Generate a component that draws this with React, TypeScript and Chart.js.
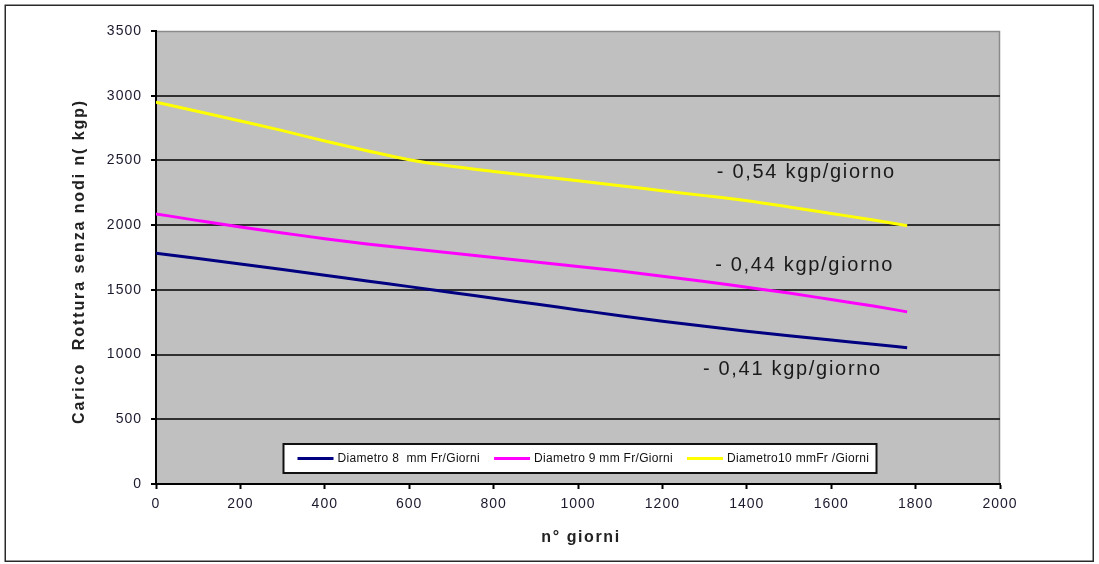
import { useEffect, useRef } from 'react';
import { Chart, registerables } from 'chart.js';

Chart.register(...registerables);

// ---- data ----
const days = [0, 100, 200, 300, 400, 500, 600, 700, 800, 900, 1000, 1100, 1200, 1300, 1400, 1500, 1600, 1700, 1780];
const diam8 = [1783, 1742, 1700, 1657, 1613, 1568, 1525, 1480, 1435, 1390, 1345, 1300, 1258, 1218, 1180, 1145, 1112, 1080, 1053];
const diam9 = [2087, 2035, 1985, 1940, 1895, 1855, 1820, 1785, 1750, 1715, 1680, 1645, 1605, 1565, 1520, 1475, 1425, 1375, 1330];
const diam10 = [2950, 2878, 2805, 2730, 2650, 2575, 2505, 2455, 2415, 2378, 2343, 2305, 2265, 2228, 2188, 2140, 2090, 2040, 1995];

const seriesLabels = ['Diametro 8  mm Fr/Giorni', 'Diametro 9 mm Fr/Giorni', 'Diametro10 mmFr /Giorni'];
const seriesColors = ['#000080', '#FF00FF', '#FFFF00'];

const xTickValues = [0, 200, 400, 600, 800, 1000, 1200, 1400, 1600, 1800, 2000];
const yTickValues = [0, 500, 1000, 1500, 2000, 2500, 3000, 3500];

const rateLabels = ['- 0,54 kgp/giorno', '- 0,44 kgp/giorno', '- 0,41 kgp/giorno'];
const rateAnchorDays = [1329, 1325, 1296];
const rateAnchorLoads = [2364, 1648, 842];

const xTitle = 'n° giorni';
const yTitle = 'Carico  Rottura senza nodi n( kgp)';

const FONT = '"Liberation Sans", Arial, Helvetica, sans-serif';

const decorPlugin = {
  id: 'decor',
  beforeDraw(chart: any) {
    const { ctx, chartArea: a } = chart;
    ctx.save();
    ctx.fillStyle = '#ffffff';
    ctx.fillRect(0, 0, chart.width, chart.height);
    ctx.fillStyle = '#C0C0C0';
    ctx.fillRect(a.left, a.top, a.right - a.left, a.bottom - a.top);
    ctx.strokeStyle = '#8a8a8a';
    ctx.lineWidth = 1.5;
    ctx.beginPath();
    ctx.moveTo(a.left, a.top + 0.5);
    ctx.lineTo(a.right - 0.5, a.top + 0.5);
    ctx.lineTo(a.right - 0.5, a.bottom);
    ctx.stroke();
    ctx.restore();
    ctx.letterSpacing = '1px';
  },
  afterDraw(chart: any) {
    const { ctx, chartArea: a } = chart;
    const xs = chart.scales.x;
    const ys = chart.scales.y;
    ctx.save();

    // legend box inside plot area
    const bx = a.left + 127.5;
    const by = a.bottom - 40;
    const bw = 593;
    const bh = 29;
    ctx.fillStyle = '#ffffff';
    ctx.fillRect(bx, by, bw, bh);
    ctx.strokeStyle = '#111111';
    ctx.lineWidth = 2;
    ctx.strokeRect(bx, by, bw, bh);
    ctx.font = `12px ${FONT}`;
    ctx.letterSpacing = '0.3px';
    ctx.textBaseline = 'middle';
    ctx.textAlign = 'left';
    let lx = bx + 14;
    const ly = by + bh / 2;
    chart.data.datasets.forEach((ds: any) => {
      ctx.strokeStyle = ds.borderColor;
      ctx.lineWidth = 3;
      ctx.beginPath();
      ctx.moveTo(lx, ly);
      ctx.lineTo(lx + 36, ly);
      ctx.stroke();
      lx += 40;
      ctx.fillStyle = '#111111';
      ctx.fillText(ds.label, lx, ly + 0.5);
      lx += ctx.measureText(ds.label).width + 14;
    });

    // rate annotations
    ctx.font = `20px ${FONT}`;
    ctx.letterSpacing = '1.7px';
    ctx.textBaseline = 'alphabetic';
    ctx.fillStyle = '#1a1a1a';
    rateLabels.forEach((t, i) => {
      ctx.fillText(t, xs.getPixelForValue(rateAnchorDays[i]), ys.getPixelForValue(rateAnchorLoads[i]));
    });

    // axis titles
    ctx.font = `bold 16px ${FONT}`;
    ctx.letterSpacing = '1.6px';
    ctx.textAlign = 'center';
    ctx.textBaseline = 'middle';
    ctx.fillStyle = '#222222';
    ctx.fillText(xTitle, (a.left + a.right) / 2 + 3, a.bottom + 54);
    ctx.save();
    ctx.translate(a.left - 76, (a.top + a.bottom) / 2 + 4);
    ctx.rotate(-Math.PI / 2);
    ctx.letterSpacing = '1.9px';
    ctx.fillText(yTitle, 0, 0);
    ctx.restore();

    // outer frame
    ctx.letterSpacing = '0px';
    ctx.strokeStyle = '#2a2a2a';
    ctx.lineWidth = 1.5;
    ctx.strokeRect(5.25, 5.25, 1088, 556);
    ctx.restore();
  },
};

export default function App() {
  const ref = useRef<HTMLCanvasElement | null>(null);

  useEffect(() => {
    if (!ref.current) return;
    const series = [diam8, diam9, diam10];
    const chart = new Chart(ref.current, {
      type: 'line',
      data: {
        datasets: series.map((vals, i) => ({
          label: seriesLabels[i],
          data: days.map((d, j) => ({ x: d, y: vals[j] })),
          borderColor: seriesColors[i],
          backgroundColor: seriesColors[i],
          borderWidth: 3,
          pointRadius: 0,
          cubicInterpolationMode: 'monotone',
          fill: false,
        })),
      },
      options: {
        responsive: false,
        animation: false,
        events: [],
        layout: { padding: { left: 0, top: 31, right: 99, bottom: 0 } },
        plugins: {
          legend: { display: false },
          tooltip: { enabled: false },
          title: { display: false },
        },
        scales: {
          x: {
            type: 'linear',
            min: 0,
            max: 2000,
            afterFit: (s: any) => {
              s.height = 80;
            },
            afterBuildTicks: (s: any) => {
              s.ticks = xTickValues.map((v) => ({ value: v }));
            },
            ticks: {
              color: '#1a1a2e',
              font: { family: FONT, size: 14 },
              padding: 7,
              maxRotation: 0,
              autoSkip: false,
              callback: (v: any) => String(v),
            },
            grid: {
              drawOnChartArea: false,
              drawTicks: true,
              tickLength: 5,
              tickColor: '#000000',
              tickWidth: 2,
            },
            border: { display: true, color: '#000000', width: 2 },
          },
          y: {
            type: 'linear',
            min: 0,
            max: 3500,
            afterFit: (s: any) => {
              s.width = 156;
            },
            afterBuildTicks: (s: any) => {
              s.ticks = yTickValues.map((v) => ({ value: v }));
            },
            ticks: {
              color: '#1a1a2e',
              font: { family: FONT, size: 14 },
              padding: 9,
              autoSkip: false,
              callback: (v: any) => String(v),
            },
            grid: {
              color: (c: any) =>
                c.tick && (c.tick.value === 0 || c.tick.value === 3500) ? 'rgba(0,0,0,0)' : '#303030',
              lineWidth: 2,
              drawTicks: true,
              tickLength: 5,
              tickColor: '#000000',
              tickWidth: 2,
            },
            border: { display: true, color: '#000000', width: 2 },
          },
        },
      },
      plugins: [decorPlugin],
    } as any);
    return () => chart.destroy();
  }, []);

  return (
    <div style={{ position: 'fixed', left: 0, top: 0, width: 1099, height: 564, background: '#ffffff' }}>
      <canvas ref={ref} width={1099} height={564} style={{ display: 'block', width: 1099, height: 564 }} />
    </div>
  );
}
